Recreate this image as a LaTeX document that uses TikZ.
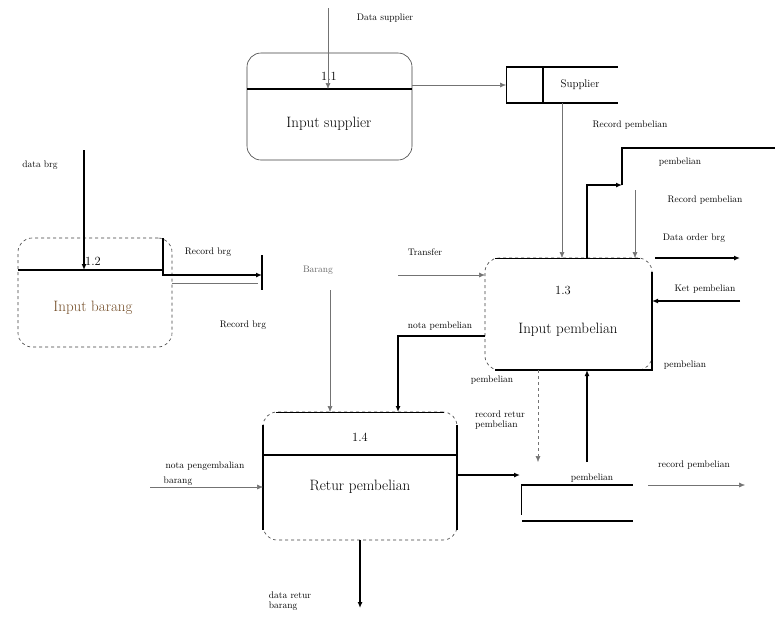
\documentclass[tikz,border=0pt]{standalone}
\usetikzlibrary{arrows.meta}
\begin{document}
\begin{tikzpicture}[x=1pt,y=-1pt,
  proc/.style={draw=black!75,line width=0.6pt,rounded corners=14pt,inner sep=0pt},
  thk/.style={line width=1.2pt},
  thn/.style={draw=black!55,line width=0.5pt},
  arr/.style={-{Latex[length=6pt,width=5pt]}},
  lbl/.style={font=\fontsize{9.5}{10.5}\selectfont,inner sep=1pt},
  ttl/.style={font=\fontsize{15}{17}\selectfont,inner sep=1pt},
  num/.style={font=\fontsize{12.5}{14}\selectfont,inner sep=1pt}]
\useasboundingbox[fill=white] (0,0) rectangle (775,619);

% ---------- Process 1.1
\node[proc,minimum width=165pt,minimum height=107pt] (p11) at (329.5,106.5) {};
\draw[thk] (247,89) -- (412,89);
\node[num] (n11) at (329,76) {1.1};
\node[ttl] (t11) at (329,124) {Input supplier};
\coordinate (ds) at (328,8);
\node[lbl] (lds) at (385,18) {Data supplier};
\draw[thn,arr] (ds) -- (328,89);

% ---------- Store Supplier
\node[minimum width=112pt,minimum height=36pt,inner sep=0pt] (sup) at (562,85) {};
\draw[thk] (506,67) -- (618,67) (506,103) -- (618,103) (543,67) -- (543,103);
\draw[line width=0.6pt] (506,67) -- (506,103);
\node[font=\fontsize{11}{13}\selectfont] (tsup) at (580,85) {Supplier};
\draw[thn,arr] (p11.east |- 0,85) -- (506,85);
\draw[thn,arr] (562,103) -- (562,258);
\node[lbl] (l1) at (630,125) {Record pembelian};

% ---------- Process 1.2
\node[proc,dashed,minimum width=154pt,minimum height=109pt] (p12) at (95,292.5) {};
\draw[thk] (18,270) -- (163,270) -- (163,238);
\node[num] (n12) at (93,261) {1.2};
\node[ttl,text=brown!60!black] (t12) at (93,308) {Input barang};
\coordinate (db) at (84,150);
\node[lbl] (ldb) at (40,165) {data brg};
\draw[thk,arr] (db) -- (84,270);
% store barang
\coordinate (sbt) at (262,255);
\coordinate (sbb) at (262,290);
\draw[thk] (sbt) -- (sbb);
\draw[thk,arr] (163,270) -- (163,275) -- (262,275);
\draw[thn] (172,283) -- (258,283);
\node[lbl] (l2) at (208,252) {Record brg};
\node[lbl] (l3) at (243,325) {Record brg};
\node[lbl,text=black!60] (l4) at (318,270) {Barang};

% ---------- Process 1.3
\node[proc,dashed,minimum width=167pt,minimum height=112pt] (p13) at (568.5,314) {};
\draw[thk] (652,272) -- (652,370) -- (495,370);
\draw[line width=0.6pt] (495,258) -- (640,258);
\node[num] (n13) at (563,290) {1.3};
\node[ttl] (t13) at (568,330) {Input pembelian};
\coordinate (tr) at (398,275);
\node[lbl] (ltr) at (425,252) {Transfer};
\draw[thn,arr] (tr) -- (485,275);
% outgoing top
\coordinate (oc) at (775,148);
\draw[thk,arr] (587,258) -- (587,185) -- (622,185);
\draw[thk] (622,185) -- (622,148) -- (oc);
\node[lbl] (l5) at (680,162) {pembelian};
\coordinate (rp) at (635,190);
\draw[thn,arr] (rp) -- (635,258);
\node[lbl] (l6) at (705,200) {Record pembelian};
\coordinate (dob) at (740,258);
\draw[thk,arr] (655,258) -- (dob);
\node[lbl] (l7) at (694,238) {Data order brg};
\coordinate (kp) at (740,301);
\draw[thk,arr] (kp) -- (652,301);
\node[lbl] (l8) at (705,289) {Ket pembelian};
\node[lbl] (l9) at (685,365) {pembelian};

% ---------- Process 1.4
\node[proc,dashed,minimum width=194pt,minimum height=128pt] (p14) at (360,476) {};
\draw[thk] (263,425) -- (263,530) (457,425) -- (457,530) (263,455) -- (457,455);
\draw[line width=0.6pt] (276,412) -- (444,412);
\node[num] (n14) at (360,437) {1.4};
\node[ttl] (t14) at (360,487) {Retur pembelian};
% inputs
\draw[thn,arr] (330,290) -- (330,412);
\draw[thk,arr] (485,336) -- (398,336) -- (398,412);
\node[lbl] (l10) at (440,326) {nota pembelian};
\coordinate (np) at (150,487);
\draw[thn,arr] (np) -- (263,487);
\node[lbl] (l11) at (205,466) {nota pengembalian};
\node[lbl] (l12) at (178,481) {barang};
\coordinate (drb) at (360,608);
\draw[thk,arr] (360,540) -- (drb);
\node[lbl,align=left] (l13) at (290,601) {data retur\\barang};

% ---------- Store pembelian
\draw[thk] (521,485) -- (633,485) (522,521) -- (633,521);
\draw[line width=0.6pt] (521,485) -- (521,515);
\node[lbl] (l14) at (592,478) {pembelian};
\draw[thk,arr] (457,475) -- (520,475);
\draw[thk,arr] (587,462) -- (587,370);
\draw[thn,dashed,arr] (538,370) -- (538,462);
\node[lbl] (l15) at (492,380) {pembelian};
\node[lbl,align=left] (l16) at (500,420) {record retur\\pembelian};
\coordinate (rpo) at (745,485);
\draw[thn,arr] (648,485) -- (rpo);
\node[lbl] (l17) at (694,465) {record pembelian};
\end{tikzpicture}
\end{document}
